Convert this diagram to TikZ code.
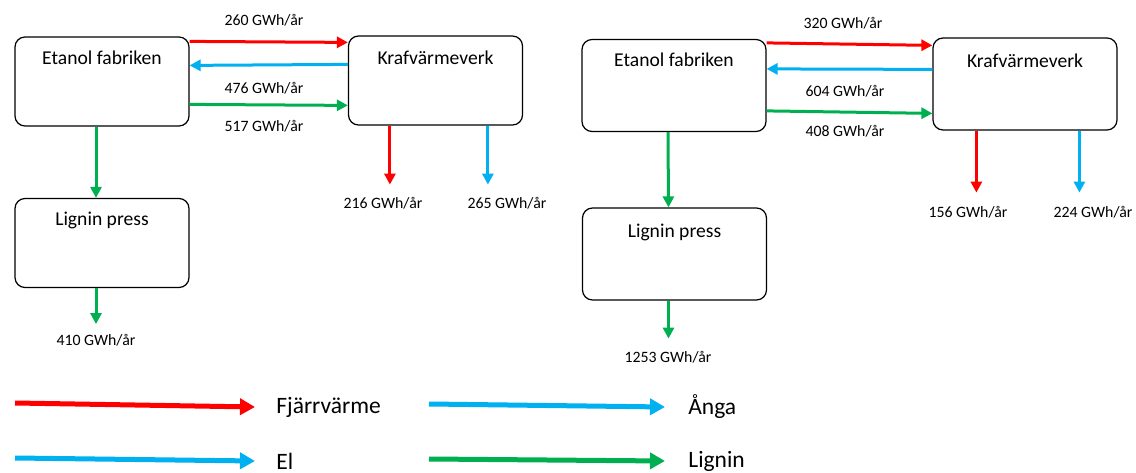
\documentclass[tikz,border=0pt]{standalone}
\usepackage{fontspec}
\setmainfont{Carlito}
\usetikzlibrary{arrows.meta,calc}
\definecolor{fjvred}{RGB}{255,0,0}
\definecolor{elblue}{RGB}{0,176,240}
\definecolor{lignigreen}{RGB}{0,176,80}
\tikzset{every picture/.style={line width=0.75pt}}
\tikzset{
  plant/.style={draw, line width=1.2pt, rounded corners=10pt, minimum width=174pt, minimum height=89pt},
  bigplant/.style={plant, minimum width=184pt, minimum height=92pt},
  plantname/.style={font=\fontsize{19.6}{23}\selectfont, inner sep=0pt},
  flowval/.style={font=\fontsize{15.8}{18}\selectfont, inner sep=0pt},
  flow/.style={line width=3pt, -{Triangle[length=11pt,width=11pt]}},
  keyflow/.style={line width=5pt, -{Triangle[length=15pt,width=16pt]}},
  keyname/.style={font=\fontsize{23.5}{27}\selectfont, anchor=west, inner sep=0pt},
}
\begin{document}
\begin{tikzpicture}[x=1pt,y=1pt,yscale=-1,xscale=1]
	\useasboundingbox (0,0) rectangle (1136,473);

	% Left case: boxes
	\node[plant] (etanolA) at (102,81.5) {};
	\node[plant] (kraftA) at (435.5,80.5) {};
	\node[plant] (ligninA) at (102,243) {};
	\node[plantname] (etanolAname) at ($(etanolA.north)+(0,21)$) {Etanol fabriken};
	\node[plantname] (kraftAname) at ($(kraftA.north)+(0,22)$) {Krafvärmeverk};
	\node[plantname] (ligninAname) at ($(ligninA.north)+(0,23)$) {Lignin press};

	% Left case: flows between boxes
	\draw[flow, fjvred] ($(etanolA.north east)+(0,5)$) -- ($(kraftA.north west)+(0,7)$);
	\draw[flow, elblue] ($(kraftA.north west)+(0,29)$) -- ($(etanolA.north east)+(0,29)$);
	\draw[flow, lignigreen] ($(etanolA.north east)+(0,68)$) -- ($(kraftA.north west)+(0,70)$);
	\draw[flow, lignigreen] ($(etanolA.south)+(-6,0)$) -- ($(ligninA.north)+(-6,0)$);

	% Left case: outgoing flows
	\coordinate (fjvAend) at ($(kraftA.south west)+(42,59)$);
	\coordinate (angaAend) at ($(kraftA.south west)+(140,59)$);
	\coordinate (ligAend) at ($(ligninA.south)+(-6,36)$);
	\draw[flow, fjvred] (kraftA.south west -| fjvAend) -- (fjvAend);
	\draw[flow, elblue] (kraftA.south west -| angaAend) -- (angaAend);
	\draw[flow, lignigreen] (ligninA.south -| ligAend) -- (ligAend);

	% Left case: values
	\node[flowval] (fjvAval) at (264,20) {260 GWh/år};
	\node[flowval] (elAval) at (264,88) {476 GWh/år};
	\node[flowval] (ligKAval) at (264,126) {517 GWh/år};
	\node[flowval] (fjvAout) at (383,203) {216 GWh/år};
	\node[flowval] (angaAout) at (507,203) {265 GWh/år};
	\node[flowval] (ligAout) at (96,340) {410 GWh/år};

	% Right case: boxes
	\node[bigplant] (etanolB) at (674,85.5) {};
	\node[bigplant] (kraftB) at (1025,84) {};
	\node[bigplant] (ligninB) at (674.5,254) {};
	\node[plantname] (etanolBname) at ($(etanolB.north)+(0,21)$) {Etanol fabriken};
	\node[plantname] (kraftBname) at ($(kraftB.north)+(0,23)$) {Krafvärmeverk};
	\node[plantname] (ligninBname) at ($(ligninB.north)+(0,25)$) {Lignin press};

	% Right case: flows between boxes
	\draw[flow, fjvred] ($(etanolB.north east)+(0,4)$) -- ($(kraftB.north west)+(0,8)$);
	\draw[flow, elblue] ($(kraftB.north west)+(0,32)$) -- ($(etanolB.north east)+(0,30)$);
	\draw[flow, lignigreen] ($(etanolB.north east)+(0,72)$) -- ($(kraftB.north west)+(0,76)$);
	\draw[flow, lignigreen] ($(etanolB.south)+(-6,0)$) -- ($(ligninB.north)+(-6,0)$);

	% Right case: outgoing flows
	\coordinate (fjvBend) at ($(kraftB.south west)+(44,62)$);
	\coordinate (angaBend) at ($(kraftB.south west)+(147,62)$);
	\coordinate (ligBend) at ($(ligninB.south)+(-6,38)$);
	\draw[flow, fjvred] (kraftB.south west -| fjvBend) -- (fjvBend);
	\draw[flow, elblue] (kraftB.south west -| angaBend) -- (angaBend);
	\draw[flow, lignigreen] (ligninB.south -| ligBend) -- (ligBend);

	% Right case: values
	\node[flowval] (fjvBval) at (843,23) {320 GWh/år};
	\node[flowval] (elBval) at (845,91) {604 GWh/år};
	\node[flowval] (ligKBval) at (845,131) {408 GWh/år};
	\node[flowval] (fjvBout) at (968,212) {156 GWh/år};
	\node[flowval] (angaBout) at (1093,212) {224 GWh/år};
	\node[flowval] (ligBout) at (668,357) {1253 GWh/år};

	% Legend
	\node[keyname] (keyfjv) at (276,407) {Fjärrvärme};
	\node[keyname] (keyanga) at (688,407) {Ånga};
	\node[keyname] (keyel) at (276,461) {El};
	\node[keyname] (keylig) at (688,461) {Lignin};
	\draw[keyflow, fjvred] (15,403) -- ([xshift=-21pt]keyfjv.west);
	\draw[keyflow, elblue] (429,404) -- ([xshift=-23pt]keyanga.west);
	\draw[keyflow, elblue] (15,458) -- ([xshift=-21pt]keyel.west);
	\draw[keyflow, lignigreen] (429,459) -- ([xshift=-23pt]keylig.west);

\end{tikzpicture}
\end{document}
